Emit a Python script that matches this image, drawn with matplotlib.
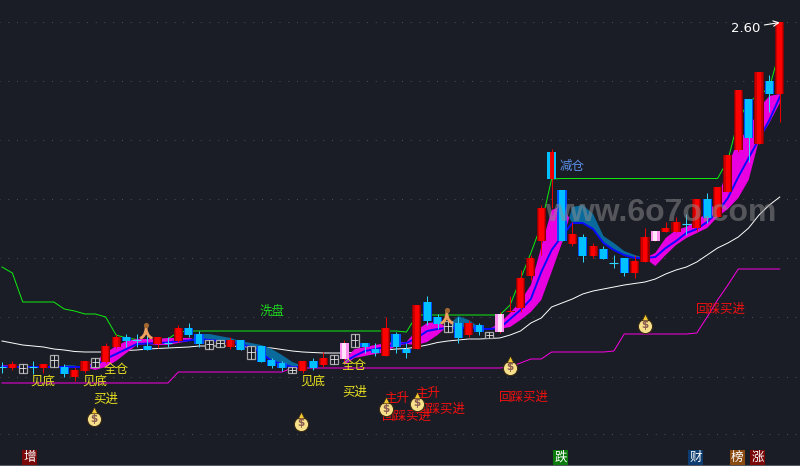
import numpy as np
import matplotlib
matplotlib.use('Agg')
import matplotlib.pyplot as plt
import matplotlib.patheffects as pe

plt.rcParams['font.family'] = ['Noto Sans CJK SC', 'DejaVu Sans']

BG = '#1a1d26'
nan = np.nan

# candle readings, 76 bars. y runs downward like the screen
kinds = ['x','r','b','x','r','b','c','r','r','b',
         'r','r','c','x','c','r','x','r','c','c',
         'b','b','r','c','b','c','c','c','b','r',
         'c','r','b','p','b','c','c','r','c','c',
         'r','c','c','b','c','r','c','b','p','r',
         'r','r','r','s','c','r','c','r','c','x',
         'c','r','r','p','r','r','x','r','c','r',
         'r','r','c','r','c','r']
body_top = [366,364,364,366.5,364,355,367,370,361,358,
            346,337,337,339.5,346,337,342,328,328,334,
            340,340,340,340,346,346,360,363,367,361,
            361,358,355,343,334,343,349,328,334,349,
            305,302,317,321,323,323,325,332,314,311,
            278,258,208,152,190,234,237,246,249,261,
            258,261,237,231,228,222,222,199,199,187,
            155,90,99,72,81,22]
body_bot = [367,368,373,367,368,367,374,377,371,367,
            362,347,341,340,350,344,343,341,335,344,
            349,347,347,350,359,362,366,368,373,371,
            368,365,364,359,347,347,353,356,347,353,
            349,321,324,332,338,335,332,338,332,312,
            308,276,241,179,241,244,256,256,259,265,
            273,273,262,241,232,232,226,228,218,217,
            192,150,138,144,94,94]
wick_top = [362,361,364,361,364,355,364,367,361,358,
            343,334,334,334,334,337,337,325,323,331,
            340,340,337,340,346,346,358,361,367,361,
            358,352,355,340,334,343,343,317,332,343,
            305,296,314,321,317,320,323,332,312,296,
            270,255,205,149,190,222,234,243,246,255,
            258,255,228,231,222,217,214,199,193,187,
            155,90,99,72,75,22]
wick_bot = [373,370,373,374,373,367,377,381,373,367,
            363,348,347,347,350,348,347,342,337,347,
            349,347,349,350,359,362,368,371,373,373,
            370,367,364,362,347,353,356,356,353,358,
            349,325,329,332,343,337,335,338,333,312,
            312,280,255,208,241,246,262,258,259,268,
            276,278,262,241,232,232,235,231,223,217,
            192,152,162,144,112,122]

# moving average lines read bar by bar
white_line = [341,343,345,346,347,349,350,351.5,352,352,
              352,351,350.5,350,349,348.5,348,347.5,347,346,
              346,346,346,346.5,347,347.5,348,349.5,351,352,
              352.5,353,353,353,352.5,352,351,350,349,348.5,
              347,345,342.5,341,340,339,339,338.5,338,335,
              331,323,318,307,303,299,294,291,289,287,
              285,283.5,282,279,274,270,267,262,255,248,
              243,237,228,215,205,197]
green_line = [267,273,302,302,302,302,309,311,314,314,
              317,335,338,339.5,339.5,339.5,339,332,331,331,
              331,331,331,331,331,331,331,331,331,331,
              331,331,331,331,331,331,331,331,331,332,
              315,315,315,315,315,315,315,315,315,305,
              279,253,225,179,178.5,178.5,178.5,178.5,178.5,178.5,
              178.5,178.5,178.5,178.5,178.5,178.5,178.5,178.5,178.5,178.5,
              160,120,102,95,88,50]
purple_line = [383,383,383,383,383,383,383,383,383,383,
               383,383,383,383,383,383,383,372,372,372,
               372,372,372,372,372,372,372,372,368,368,
               368,368,368,368,368,368,368,368,368,368,
               368,368,368,368,368,368,368,368,368,367,
               363,359,359,352,352,352,352,352,352,351,
               334,334,334,334,334,334,334,333,317,300,
               285,269,269,269,269,269]

# the ribbon: magenta where fast is above slow, teal where below
ma_fast = [365,366,nan,nan,nan,nan,368,368,367.5,361,
           353,346,341,339,339,339,338,338,338,339,
           340,341,342,344,347,353,361,364,367,367,
           nan,nan,nan,360,349,347,345,343,342,342,
           330,323,322,328,328,328,329,329,323,313,
           301,285,247,210,206,223,223,229,243,250,
           255,258,258,253,238,230,227,220,213,200,
           166,140,130,108,96,94]
ma_slow = [368,367,nan,nan,nan,nan,365,365.5,367.5,370,
           367,361,353,345,344,345,345,343,341,334,
           334,336,338,341,343,345,349,355,362,366,
           nan,nan,nan,365,358,356,354,352,346,344,
           345,342,335,326,316,320,327,329,329,327,
           320,312,300,272,243,207,205,214,236,243,
           251,255,258,266,255,245,238,233,228,217,
           209,198,180,140,123,103]
ma_mid = [366.5,367,367,367,367,367,367,367,367,365,
          359,354,349,344,343.5,343,342.5,341,340.5,339,
          340,341,342,344,347,353,361,364,367,367,
          nan,nan,nan,362,356,351,349,347,344,343,
          338,331,329,328,328,328,329,329,328,319,
          310,299,272,250,236,223,223,229,243,250,
          255,258,258,257,248,241,233,229,222,212,
          198,177,158,139,120,97]

gridlines = [22,81,140,199,258,317,376.5,434]

signal_texts = ['洗盘','见底','见底','见底','全仓','全仓','买进','买进',
                '主升','主升','回踩买进','回踩买进','回踩买进','回踩买进','减仓']
signal_x = [26.0,3.95,9.0,30.0,11.0,34.0,10.0,34.0,
            38.1,41.1,39.1,42.3,50.3,69.3,55.0]
signal_y = [311,381,381,381,369,366,399,392,
            398,393,416,409,397,309,166]
signal_colors = ['#1fd41f','#e8e020','#e8e020','#e8e020','#e8e020','#e8e020','#e8e020','#e8e020',
                 '#f01010','#f01010','#f01010','#f01010','#f01010','#f01010','#5a8fe8']

bag_x = [8.9,28.8,37.0,40.0,49.0,62.0]
bag_y = [417,422,407,402,366,324]
person_x = [13.9,42.9]
person_y = [332,317]

badge_texts = ['增','跌','财','榜','涨']
badge_x = [2.7,53.9,66.9,70.9,72.9]
badge_colors = ['#7a0808','#0a7a0a','#0c3c70','#8a4a10','#7a0808']

x = np.arange(len(kinds))

fig = plt.figure(figsize=(8, 4.66), dpi=100, facecolor=BG)
ax = fig.add_axes([0, 0, 1, 1], facecolor=BG)
ax.set_xlim(-2 / 10.37, 798 / 10.37)
ax.set_ylim(466, 0)
ax.axis('off')

for g in gridlines:
    ax.plot([-1, 77], [g, g], color='#4e5158', lw=0.7, ls=(0, (1, 8)), zorder=1)
ax.plot([-1, 77], [465.5, 465.5], color='#555860', lw=1.5, zorder=1)

ax.plot(x, white_line, color='white', lw=0.7, zorder=2)
ax.plot(x, purple_line, color='#ff00e6', lw=0.7, zorder=2)
ax.plot(x, green_line, color='#10ee10', lw=0.7, zorder=2)

# ribbon
fast = np.array(ma_fast, dtype=float)
slow = np.array(ma_slow, dtype=float)
ax.fill_between(x, fast, slow, where=fast <= slow, interpolate=True, color='#e800e0', lw=0, zorder=3)
ax.fill_between(x, fast, slow, where=fast >= slow, interpolate=True, color='#0a6a9c', lw=0, zorder=3)
ax.plot(x, ma_mid, color='#0a0aff', lw=1.4, zorder=4)

# candles
for i in x:
    k = kinds[i]
    top, bot = body_top[i], body_bot[i]
    h = bot - top
    if k == 'r':
        ax.vlines(i, wick_top[i], wick_bot[i], color='#f00000', lw=0.7, zorder=5)
        ax.bar(i, h, 0.88, bottom=top, color='#8c0000', lw=0, zorder=6)
        ax.bar(i, h, 0.68, bottom=top, color='#c80000', lw=0, zorder=6)
        ax.bar(i, h, 0.44, bottom=top, color='#ff0000', lw=0, zorder=7)
    elif k == 'c':
        ax.vlines(i, wick_top[i], wick_bot[i], color='#30d8ff', lw=0.7, zorder=5)
        ax.bar(i, h, 0.88, bottom=top, color='#0050ff', lw=0, zorder=6)
        ax.bar(i, h, 0.66, bottom=top, color='#00c0ff', lw=0, zorder=7)
    elif k == 'x':
        ax.vlines(i, wick_top[i], wick_bot[i], color='#30d8ff', lw=0.7, zorder=5)
        ax.hlines((top + bot) / 2, i - 0.42, i + 0.42, color='#30d8ff', lw=0.8, zorder=6)
    elif k == 'p':
        ax.vlines(i, wick_top[i], wick_bot[i], color='#f00000', lw=0.7, zorder=5)
        ax.bar(i, h, 0.88, bottom=top, color='#ff90ee', lw=0, zorder=6)
        ax.bar(i, h, 0.42, bottom=top, color='#ffe4fa', lw=0, zorder=7)
    elif k == 'b':
        ax.bar(i, h, 0.76, bottom=top, facecolor=BG, edgecolor='#a8a8a8', lw=0.9, zorder=6)
        ax.vlines(i, top, bot, color='#e8e8e8', lw=0.6, zorder=7)
        ax.hlines(top + h * 0.45, i - 0.36, i + 0.36, color='#e8e8e8', lw=0.6, zorder=7)
    elif k == 's':
        ax.vlines(i, wick_top[i], wick_bot[i], color='#f00000', lw=0.7, zorder=5)
        ax.bar(i, h, 0.88, bottom=top, color='#00c0ff', lw=0, zorder=6)
        ax.bar(i, h, 0.4, bottom=top, color='#f00000', lw=0, zorder=7)

# watermark
ax.text(52.4, 213, 'www.6o7o.com', color='#909090', alpha=0.5, fontsize=23, fontweight='bold',
        family=['Liberation Sans'], ha='left', va='center', zorder=8)

for t, tx, ty, c in zip(signal_texts, signal_x, signal_y, signal_colors):
    ax.text(tx, ty, t, color=c, fontsize=9, ha='center', va='center', zorder=9)

# money bags
for bx, by in zip(bag_x, bag_y):
    ax.scatter(bx, by + 1.5, s=105, color='#f6e08a', edgecolors='#3a2a14', linewidths=0.8, zorder=9)
    ax.scatter(bx, by - 7, s=22, marker='^', color='#f4c830', edgecolors='#3a2a14', linewidths=0.5, zorder=9)
    ax.text(bx, by + 1.5, '$', color='#8a5a50', fontsize=7.5, fontweight='bold',
            family=['DejaVu Sans'], ha='center', va='center', zorder=10)

# running man markers
for px, py in zip(person_x, person_y):
    ax.text(px, py + 2, '人', color='#f0a868', fontsize=9, ha='center', va='center', zorder=10,
            path_effects=[pe.withStroke(linewidth=1.4, foreground='#e89858')])
    ax.scatter(px, py - 7, s=14, color='#a06830', lw=0, zorder=10)

# date badges at the bottom
for t, bx, c in zip(badge_texts, badge_x, badge_colors):
    ax.text(bx, 457.5, t, color='white', fontsize=9, ha='center', va='center', zorder=9,
            bbox=dict(boxstyle='square,pad=0.1', facecolor=c, edgecolor='none'))

# high price label with the arrow
ax.annotate('2.60', xy=(75.0, 22.5), xytext=(71.7, 28), color='white', fontsize=9.5,
            family=['DejaVu Sans'], ha='center', va='center', zorder=10,
            arrowprops=dict(arrowstyle='->', color='white', lw=0.8, shrinkA=1, shrinkB=0))

fig.savefig('out.png', dpi=100, facecolor=BG)
